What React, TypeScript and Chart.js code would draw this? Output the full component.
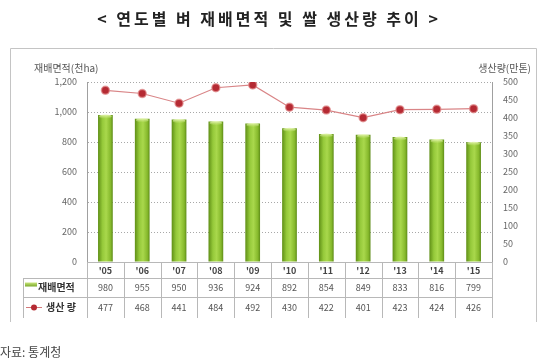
import React, { useEffect, useRef } from "react";
import { Chart, registerables } from "chart.js";

Chart.register(...registerables);

const years = ["'05", "'06", "'07", "'08", "'09", "'10", "'11", "'12", "'13", "'14", "'15"];
const areaValues = [980, 955, 950, 936, 924, 892, 854, 849, 833, 816, 799];
const productionValues = [477, 468, 441, 484, 492, 430, 422, 401, 423, 424, 426];
const areaLabel = "재배면적";
const productionLabel = "생산 량";
const titleText = "< 연도별 벼 재배면적 및 쌀 생산량 추이 >";
const leftAxisTitle = "재배면적(천ha)";
const rightAxisTitle = "생산량(만톤)";
const sourceText = "자료: 통계청";

const FONT = "'Noto Sans CJK KR', 'Noto Sans', sans-serif";

export default function App() {
  const ref = useRef<HTMLCanvasElement | null>(null);

  useEffect(() => {
    const canvas = ref.current;
    if (!canvas) return;

    const decor = {
      id: "decor",
      beforeDraw(chart: any) {
        const ctx = chart.ctx;
        ctx.save();
        ctx.fillStyle = "#ffffff";
        ctx.fillRect(0, 0, chart.width, chart.height);
        // frame
        ctx.strokeStyle = "#c4c4c4";
        ctx.lineWidth = 1;
        ctx.beginPath();
        ctx.moveTo(10.5, 322);
        ctx.lineTo(10.5, 48.5);
        ctx.lineTo(536.5, 48.5);
        ctx.lineTo(536.5, 322);
        ctx.stroke();
        // title
        ctx.fillStyle = "#222";
        ctx.font = `bold 16px ${FONT}`;
        ctx.textAlign = "center";
        ctx.textBaseline = "middle";
        try {
          (ctx as any).letterSpacing = "3px";
        } catch (e) {}
        ctx.fillText(titleText, 269, 19);
        try {
          (ctx as any).letterSpacing = "0px";
        } catch (e) {}
        // axis titles
        ctx.font = `10px ${FONT}`;
        ctx.fillStyle = "#555";
        ctx.textAlign = "left";
        ctx.fillText(leftAxisTitle, 34, 68);
        ctx.textAlign = "right";
        ctx.fillText(rightAxisTitle, 531, 68);
        // source
        ctx.textAlign = "left";
        ctx.font = `12px ${FONT}`;
        ctx.fillStyle = "#444";
        ctx.fillText(sourceText, 0, 352);
        ctx.restore();
      },
      afterDatasetDraw(chart: any, args: any) {
        if (args.index !== 1) return;
        const ctx = chart.ctx;
        const meta = chart.getDatasetMeta(1);
        ctx.save();
        meta.data.forEach((el: any) => {
          const w = el.width;
          const g = ctx.createLinearGradient(0, el.y, 0, el.y + 4);
          g.addColorStop(0, "rgba(230,245,180,0.9)");
          g.addColorStop(1, "rgba(200,230,120,0)");
          ctx.fillStyle = g;
          ctx.beginPath();
          ctx.ellipse(el.x, el.y + 1.5, w / 2 - 1, 2, 0, 0, Math.PI * 2);
          ctx.fill();
        });
        ctx.restore();
      },
      afterDraw(chart: any) {
        const ctx = chart.ctx;
        const xs = chart.scales.x;
        const area = chart.chartArea;
        const n = years.length;
        const step = (area.right - area.left) / n;
        const r0 = area.bottom;
        const r1 = r0 + 16;
        const r2 = r1 + 19;
        const r3 = r2 + 21;
        const tableLeft = 23.5;
        ctx.save();
        ctx.strokeStyle = "#b8b8b8";
        ctx.lineWidth = 1;
        ctx.beginPath();
        ctx.moveTo(area.left, Math.round(r0) + 0.5);
        ctx.lineTo(area.right, Math.round(r0) + 0.5);
        ctx.moveTo(tableLeft, Math.round(r1) + 0.5);
        ctx.lineTo(area.right, Math.round(r1) + 0.5);
        ctx.moveTo(tableLeft, Math.round(r2) + 0.5);
        ctx.lineTo(area.right, Math.round(r2) + 0.5);
        ctx.moveTo(tableLeft, Math.round(r1));
        ctx.lineTo(tableLeft, r3);
        for (let i = 0; i <= n; i++) {
          const x = Math.round(area.left + i * step) + 0.5;
          ctx.moveTo(x, r0);
          ctx.lineTo(x, r3);
        }
        ctx.stroke();

        ctx.textAlign = "center";
        ctx.textBaseline = "middle";
        for (let i = 0; i < n; i++) {
          const cx = xs.getPixelForValue(i);
          ctx.fillStyle = "#444";
          ctx.font = `bold 9px ${FONT}`;
          ctx.fillText(years[i], cx, (r0 + r1) / 2 + 1);
          ctx.font = `9px ${FONT}`;
          ctx.fillStyle = "#555";
          ctx.fillText(String(areaValues[i]), cx, (r1 + r2) / 2);
          ctx.fillText(String(productionValues[i]), cx, (r2 + r3) / 2);
        }
        // legend column
        const ly1 = (r1 + r2) / 2 - 3;
        const g = ctx.createLinearGradient(0, ly1 - 2, 0, ly1 + 2);
        g.addColorStop(0, "#c9e67d");
        g.addColorStop(1, "#7aa82a");
        ctx.fillStyle = g;
        ctx.fillRect(25, ly1 - 2, 12, 4);
        ctx.font = `bold 10px ${FONT}`;
        ctx.fillStyle = "#333";
        ctx.textAlign = "left";
        ctx.fillText(areaLabel, 38, (r1 + r2) / 2);
        const ly2 = (r2 + r3) / 2;
        ctx.strokeStyle = "#d4787a";
        ctx.beginPath();
        ctx.moveTo(26, ly2);
        ctx.lineTo(42, ly2);
        ctx.stroke();
        ctx.fillStyle = "#b52a33";
        ctx.beginPath();
        ctx.arc(34, ly2, 3, 0, Math.PI * 2);
        ctx.fill();
        ctx.fillStyle = "#333";
        ctx.fillText(productionLabel, 46, ly2);
        ctx.restore();
      },
    };

    const chart = new Chart(canvas, {
      type: "bar",
      data: {
        labels: years,
        datasets: [
          {
            type: "line",
            label: productionLabel,
            data: productionValues,
            yAxisID: "y1",
            order: 0,
            borderColor: "#d98587",
            borderWidth: 1.2,
            pointRadius: 4,
            pointBackgroundColor: "#b52a33",
            pointBorderColor: "rgba(225,140,140,0.7)",
            pointBorderWidth: 1.5,
            tension: 0,
          } as any,
          {
            type: "bar",
            label: areaLabel,
            data: areaValues,
            yAxisID: "y",
            order: 1,
            barPercentage: 0.4,
            categoryPercentage: 1,
            backgroundColor: (c: any) => {
              const ch = c.chart;
              const xs = ch.scales.x;
              if (!xs || c.dataIndex === undefined || !ch.chartArea) return "#8cbf2f";
              const cx = xs.getPixelForValue(c.dataIndex);
              const w = ((ch.chartArea.right - ch.chartArea.left) / years.length) * 0.4;
              const gr = ch.ctx.createLinearGradient(cx - w / 2, 0, cx + w / 2, 0);
              gr.addColorStop(0, "#5f8f16");
              gr.addColorStop(0.3, "#95c93a");
              gr.addColorStop(0.55, "#a9d84c");
              gr.addColorStop(0.85, "#86b92c");
              gr.addColorStop(1, "#5e8c18");
              return gr;
            },
            borderWidth: 0,
          } as any,
        ],
      },
      options: {
        responsive: false,
        animation: false,
        layout: { padding: { left: 0, right: 0, top: 82, bottom: 100 } },
        plugins: { legend: { display: false }, tooltip: { enabled: false } },
        scales: {
          x: { display: false },
          y: {
            position: "left",
            min: 0,
            max: 1200,
            ticks: {
              stepSize: 200,
              padding: 10,
              color: "#666",
              font: { size: 9, family: FONT },
              callback: (v: any) => Number(v).toLocaleString("en-US"),
            },
            grid: { color: "#a8a8a8", drawTicks: false, lineWidth: 1 },
            border: { display: true, color: "#a0a0a0", dash: [1, 2] },
            afterFit: (s: any) => {
              s.width = 87;
            },
          } as any,
          y1: {
            position: "right",
            min: 0,
            max: 500,
            ticks: {
              stepSize: 50,
              padding: 11,
              color: "#666",
              font: { size: 9, family: FONT },
            },
            grid: { display: false, drawTicks: false },
            border: { display: true, color: "#a0a0a0", dash: [1, 2] },
            afterFit: (s: any) => {
              s.width = 50;
            },
          } as any,
        },
      },
      plugins: [decor],
    });

    return () => chart.destroy();
  }, []);

  return (
    <div style={{ position: "absolute", left: 0, top: 0, width: 542, height: 362, background: "#fff" }}>
      <canvas ref={ref} width={542} height={362} style={{ width: 542, height: 362 }} />
    </div>
  );
}
